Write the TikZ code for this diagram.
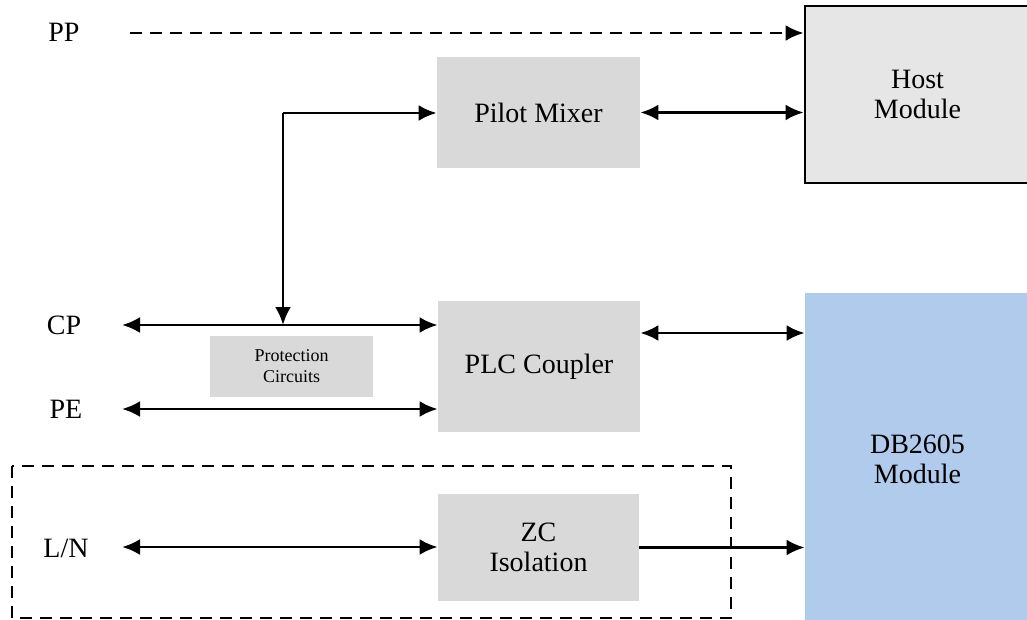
\documentclass[tikz,border=0pt]{standalone}
\usepackage{fontspec}
\setmainfont{Liberation Serif}
\usetikzlibrary{arrows.meta}
\definecolor{boxgray}{HTML}{D9D9D9}
\definecolor{hostgray}{HTML}{E6E6E6}
\definecolor{dbblue}{HTML}{B0CBEB}
\tikzset{
  blk/.style={fill=boxgray, draw=none, inner sep=0pt, align=center, font=\fontsize{14}{15}\selectfont},
  lbl/.style={inner sep=0pt, font=\fontsize{14}{15}\selectfont},
  conn/.style={line width=1.4pt, -{Latex[length=9pt,width=8pt]}},
  biconn/.style={line width=1.4pt, {Latex[length=9pt,width=8pt]}-{Latex[length=9pt,width=8pt]}},
  dashbox/.style={line width=1.1pt, dash pattern=on 6pt off 4pt},
}
\begin{document}
\begin{tikzpicture}[x=0.5pt,y=-0.5pt]
\useasboundingbox (0,0) rectangle (1027,620);
% blocks
\node[blk, minimum width=101.5pt, minimum height=55.5pt] (pilot) at (538.5,112.5) {Pilot Mixer};
\node[blk, minimum width=101pt, minimum height=65.5pt] (plc) at (539,366.5) {PLC Coupler};
\node[blk, minimum width=100.5pt, minimum height=53.5pt] (zc) at (538.5,547.5) {ZC\\Isolation};
\node[blk, minimum width=81.5pt, minimum height=30.5pt, font=\fontsize{9}{10.5}\selectfont] (prot) at (291.5,366.5) {Protection\\Circuits};
\node[blk, fill=hostgray, draw=black, line width=1.4pt, minimum width=112.5pt, minimum height=88.5pt] (host) at (917.5,94.5) {Host\\Module};
\node[blk, fill=dbblue, minimum width=112.5pt, minimum height=166pt] (db) at (917.5,459) {DB2605\\Module};
% labels
\node[lbl] (pp) at (64,32) {PP};
\node[lbl] (cp) at (64,325) {CP};
\node[lbl] (pe) at (66,409) {PE};
\node[lbl] (ln) at (66,548) {L/N};
% coordinates
\coordinate (ppstart) at (130,33);
\coordinate (cpstart) at (122,325);
\coordinate (pestart) at (122,409);
\coordinate (lnstart) at (122,547);
\coordinate (junc) at (283,113);
% connectors
\draw[conn, dash pattern=on 6pt off 4pt] (ppstart) -- (ppstart -| host.west);
\draw[biconn] (pilot.east) -- (pilot.east -| host.west);
\draw[conn] (junc) -- (junc -| pilot.west);
\draw[conn] (junc) -- (junc |- cpstart);
\draw[biconn] (cpstart) -- (cpstart -| plc.west);
\draw[biconn] (pestart) -- (pestart -| plc.west);
\draw[biconn] ([yshift=16.75pt]plc.east) -- ([yshift=16.75pt]plc.east -| db.west);
\draw[biconn] (lnstart) -- (lnstart -| zc.west);
\draw[conn] (zc.east) -- (zc.east -| db.west);
% dashed region
\draw[dashbox] (12,466) rectangle (731,618);
\end{tikzpicture}
\end{document}
